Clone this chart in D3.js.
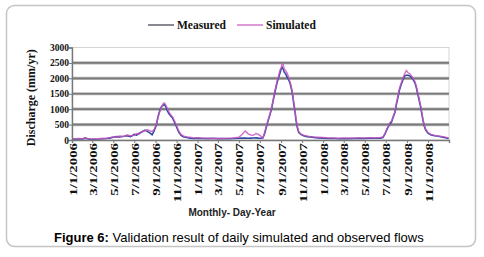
<!DOCTYPE html>
<html>
<head>
<meta charset="utf-8">
<script src="https://cdn.jsdelivr.net/npm/d3@7"></script>
<style>
  body { margin: 0; background: #fff; }
  svg { display: block; }
</style>
</head>
<body>
<div id="chart"></div>
<script>
// data (mm/yr)
const dates = [
  '2006-01-01','2006-01-10','2006-01-20','2006-02-01','2006-02-08','2006-02-15','2006-02-25','2006-03-10','2006-03-20',
  '2006-04-01','2006-04-10','2006-04-20','2006-05-01','2006-05-10','2006-05-20','2006-06-01','2006-06-10','2006-06-20',
  '2006-07-01','2006-07-08','2006-07-15','2006-07-22','2006-08-01','2006-08-08','2006-08-15','2006-08-22','2006-08-28',
  '2006-09-03','2006-09-08','2006-09-13','2006-09-18','2006-09-23','2006-09-27','2006-10-01','2006-10-05','2006-10-10',
  '2006-10-15','2006-10-20','2006-10-25','2006-11-01','2006-11-07','2006-11-14','2006-11-22','2006-12-01','2006-12-10',
  '2006-12-20',
  '2007-01-01','2007-01-15','2007-02-01','2007-02-15','2007-03-01','2007-03-15','2007-04-01','2007-04-15','2007-05-01',
  '2007-05-10','2007-05-20','2007-05-28','2007-06-05','2007-06-12','2007-06-20','2007-06-27','2007-07-05','2007-07-10',
  '2007-07-15','2007-07-20','2007-07-25','2007-07-30','2007-08-04','2007-08-08','2007-08-12','2007-08-16','2007-08-20',
  '2007-08-24','2007-08-28','2007-09-01','2007-09-04','2007-09-07','2007-09-10','2007-09-14','2007-09-18','2007-09-21',
  '2007-09-25','2007-09-28','2007-10-02','2007-10-05','2007-10-08','2007-10-11','2007-10-14','2007-10-18','2007-10-22',
  '2007-10-28','2007-11-05','2007-11-15','2007-11-25','2007-12-05','2007-12-17',
  '2008-01-01','2008-01-15','2008-02-01','2008-02-15','2008-03-01','2008-03-15','2008-04-01','2008-04-15','2008-05-01',
  '2008-05-15','2008-06-01','2008-06-15','2008-06-23','2008-06-29','2008-07-04','2008-07-08','2008-07-13','2008-07-18',
  '2008-07-23','2008-07-28','2008-08-01','2008-08-05','2008-08-10','2008-08-15','2008-08-20','2008-08-25','2008-08-30',
  '2008-09-04','2008-09-09','2008-09-14','2008-09-19','2008-09-24','2008-09-28','2008-10-02','2008-10-06','2008-10-10',
  '2008-10-14','2008-10-17','2008-10-21','2008-10-25','2008-11-01','2008-11-10','2008-11-20','2008-12-01','2008-12-15',
  '2008-12-31'
];

const measured = [
  30, 25, 40, 35, 60, 40, 20, 25, 30,
  40, 50, 60, 90, 110, 100, 120, 140, 110,
  180, 160, 220, 250, 320, 280, 230, 170, 300,
  480, 750, 950, 1080, 1130, 1150, 1080, 950, 850,
  780, 720, 600, 420, 260, 150, 100, 80, 60,
  50,
  60, 50, 45, 55, 40, 45, 40, 50, 55,
  60, 60, 55, 60, 65, 70, 60, 55, 70,
  200, 420, 620, 800, 1000, 1230, 1450, 1650, 1850,
  2000, 2150, 2300, 2350, 2300, 2200, 2150, 2050, 2000,
  1900, 1800, 1600, 1400, 1150, 950, 650, 400, 250,
  180, 140, 110, 100, 80, 70,
  60, 50, 55, 40, 50, 45, 50, 55, 50,
  60, 55, 60, 80, 200, 330, 420, 520, 580,
  750, 900, 1150, 1350, 1620, 1800, 1950, 2080, 2100,
  2100, 2080, 2030, 1950, 1850, 1700, 1500, 1300, 1100,
  850, 650, 450, 330, 220, 160, 140, 120, 90,
  50
];

const simulated = [
  40, 35, 50, 45, 70, 50, 30, 35, 40,
  55, 45, 75, 100, 95, 130, 110, 160, 140,
  150, 210, 190, 270, 300, 340, 300, 280, 350,
  500, 720, 920, 1060, 1180, 1200, 1120, 1030, 900,
  820, 760, 640, 470, 300, 180, 120, 100, 90,
  70,
  70, 60, 55, 45, 55, 50, 60, 65, 90,
  180, 290, 200, 160, 150, 210, 180, 120, 60,
  250, 450, 650, 820, 1050, 1250, 1500, 1700, 1900,
  2050, 2250, 2350, 2480, 2450, 2300, 2250, 2180, 2100,
  1950, 1850, 1650, 1450, 1200, 1000, 700, 450, 280,
  200, 160, 130, 110, 100, 90,
  80, 70, 60, 60, 70, 60, 65, 70, 70,
  75, 70, 80, 100, 210, 350, 440, 560, 620,
  780, 920, 1200, 1400, 1680, 1850, 2000, 2150, 2250,
  2180, 2150, 2080, 2000, 1900, 1750, 1550, 1350, 1150,
  900, 700, 480, 360, 240, 180, 150, 130, 110,
  70
];

const xTickLabels = [
  '1/1/2006','3/1/2006','5/1/2006','7/1/2006','9/1/2006','11/1/2006',
  '1/1/2007','3/1/2007','5/1/2007','7/1/2007','9/1/2007','11/1/2007',
  '1/1/2008','3/1/2008','5/1/2008','7/1/2008','9/1/2008','11/1/2008'
];
const yTicks = [0, 500, 1000, 1500, 2000, 2500, 3000];
const seriesNames = ['Measured', 'Simulated'];
const seriesColors = ['#2f4aa0', '#c855c0'];

const W = 484, H = 257;
const serif = '"Liberation Serif", "Times New Roman", serif';
const sans = '"Liberation Sans", Arial, sans-serif';

const svg = d3.select('#chart').append('svg')
  .attr('width', W)
  .attr('height', H);

// outer rounded frame
svg.append('rect')
  .attr('x', 6.5).attr('y', 5.5)
  .attr('width', 469).attr('height', 241)
  .attr('rx', 8)
  .attr('fill', '#fff')
  .attr('stroke', '#c4c4c4')
  .attr('stroke-width', 1.5);

const parseDate = d3.timeParse('%Y-%m-%d');
const parseTick = d3.timeParse('%m/%d/%Y');

const x = d3.scaleTime()
  .domain([parseDate('2006-01-01'), parseDate('2009-01-01')])
  .range([72, 449]);
const y = d3.scaleLinear()
  .domain([0, 3000])
  .range([140, 47.5]);

const plot = svg.append('g');

// plot frame (top/right light)
plot.append('rect')
  .attr('x', x.range()[0]).attr('y', y(3000))
  .attr('width', x.range()[1] - x.range()[0])
  .attr('height', y(0) - y(3000))
  .attr('fill', 'none')
  .attr('stroke', '#d4d4d4')
  .attr('stroke-width', 1);

// gridlines
plot.selectAll('.grid')
  .data(yTicks.filter(v => v > 0 && v < 3000))
  .enter()
  .append('line')
  .attr('x1', x.range()[0]).attr('x2', x.range()[1])
  .attr('y1', d => y(d)).attr('y2', d => y(d))
  .attr('stroke', '#b8b8b8')
  .attr('stroke-width', 3.2);
plot.selectAll('.grid2')
  .data(yTicks.filter(v => v > 0 && v < 3000))
  .enter()
  .append('line')
  .attr('x1', x.range()[0]).attr('x2', x.range()[1])
  .attr('y1', d => y(d)).attr('y2', d => y(d))
  .attr('stroke', '#7a7a7a')
  .attr('stroke-width', 1.6);

// series
const line = d3.line()
  .x(d => x(d.date))
  .y(d => y(d.value))
  .curve(d3.curveLinear);

const seriesData = [measured, simulated].map((vals, i) => ({
  name: seriesNames[i],
  values: vals.map((v, j) => ({ date: parseDate(dates[j]), value: v }))
}));

plot.selectAll('.series')
  .data(seriesData)
  .enter()
  .append('path')
  .attr('class', 'series')
  .attr('d', d => line(d.values))
  .attr('fill', 'none')
  .attr('stroke', (d, i) => seriesColors[i])
  .attr('stroke-width', (d, i) => i === 0 ? 1.6 : 1.4)
  .attr('stroke-opacity', (d, i) => i === 0 ? 1 : 0.85);

// axes
const xAxis = d3.axisBottom(x)
  .tickValues(xTickLabels.map(parseTick))
  .tickSize(3)
  .tickFormat((d, i) => xTickLabels[i]);

const gx = svg.append('g')
  .attr('transform', `translate(0, ${y(0)})`)
  .call(xAxis);
gx.select('.domain').attr('stroke', '#777').attr('stroke-width', 1.4);
gx.selectAll('.tick line').attr('stroke', '#777');
gx.selectAll('.tick text')
  .attr('transform', 'translate(4, 3) rotate(-90) scale(1.35, 1)')
  .attr('x', 0).attr('y', 0).attr('dy', 0)
  .style('text-anchor', 'end')
  .style('font-family', serif)
  .style('font-weight', 'bold')
  .style('font-size', '11px')
  .attr('fill', '#111');

const yAxis = d3.axisLeft(y)
  .tickValues(yTicks)
  .tickSize(3)
  .tickFormat(d3.format('d'));

const gy = svg.append('g')
  .attr('transform', `translate(${x.range()[0]}, 0)`)
  .call(yAxis);
gy.select('.domain').attr('stroke', '#777').attr('stroke-width', 1.4);
gy.selectAll('.tick line').attr('stroke', '#777');
gy.selectAll('.tick text')
  .attr('x', -3)
  .style('font-family', serif)
  .style('font-weight', 'bold')
  .style('font-size', '9.5px')
  .attr('fill', '#111');

// axis titles
svg.append('text')
  .attr('transform', `translate(35, ${(y(0) + y(3000)) / 2 + 4}) rotate(-90)`)
  .style('text-anchor', 'middle')
  .style('font-family', serif)
  .style('font-weight', 'bold')
  .style('font-size', '12px')
  .attr('fill', '#111')
  .text('Discharge (mm/yr)');

svg.append('text')
  .attr('x', 232).attr('y', 216)
  .style('text-anchor', 'middle')
  .style('font-family', sans)
  .style('font-weight', 'bold')
  .style('font-size', '10px')
  .attr('fill', '#222')
  .text('Monthly- Day-Year');

// legend
const legend = svg.append('g').attr('class', 'legend');
const legendX = [148, 237];
seriesNames.forEach((name, i) => {
  legend.append('line')
    .attr('x1', legendX[i]).attr('x2', legendX[i] + 26)
    .attr('y1', 25).attr('y2', 25)
    .attr('stroke', i === 0 ? '#3a3a4a' : seriesColors[i])
    .attr('stroke-width', 1.2);
  legend.append('text')
    .attr('x', legendX[i] + 29).attr('y', 29)
    .style('font-family', serif)
    .style('font-weight', 'bold')
    .style('font-size', '11.5px')
    .attr('fill', '#111')
    .text(name);
});

// caption
const caption = svg.append('text')
  .attr('x', 54).attr('y', 242)
  .style('font-family', sans)
  .style('font-size', '13px')
  .attr('fill', '#000');
caption.append('tspan').style('font-weight', 'bold').text('Figure 6:');
caption.append('tspan').text(' Validation result of daily simulated and observed flows');
</script>
</body>
</html>
